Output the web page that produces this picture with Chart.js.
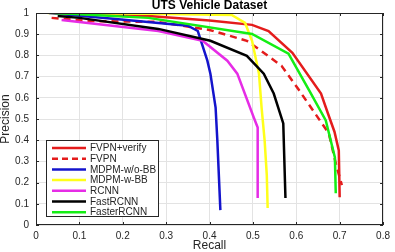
<!DOCTYPE html>
<html>
<head>
<meta charset="utf-8">
<script src="https://cdn.jsdelivr.net/npm/chart.js@4"></script>
<style>
html,body{margin:0;padding:0;background:#fff;}
#wrap{position:relative;width:395px;height:252px;}
</style>
</head>
<body>
<div id="wrap"><canvas id="c" width="395" height="252"></canvas></div>
<script>
const chartTitle = "UTS Vehicle Dataset";
const xTitle = "Recall";
const yTitle = "Precision";
const seriesNames = ["FVPN+verify","FVPN","MDPM-w/o-BB","MDPM-w-BB","RCNN","FastRCNN","FasterRCNN"];

const fvpnVerifyRecall    = [0.04, 0.26, 0.40, 0.498, 0.536, 0.591, 0.657, 0.673, 0.688, 0.698, 0.70];
const fvpnVerifyPrecision = [1.00, 0.986, 0.965, 0.944, 0.915, 0.812, 0.620, 0.526, 0.44, 0.352, 0.131];

const fvpnRecall    = [0.036, 0.123, 0.28, 0.40, 0.486, 0.509, 0.566, 0.607, 0.675, 0.691, 0.705];
const fvpnPrecision = [0.977, 0.962, 0.958, 0.92, 0.869, 0.836, 0.751, 0.634, 0.432, 0.291, 0.188];

const mdpmNoBBRecall    = [0.03, 0.19, 0.35, 0.373, 0.384, 0.395, 0.402, 0.414, 0.418, 0.425];
const mdpmNoBBPrecision = [1.00, 0.97, 0.94, 0.915, 0.845, 0.775, 0.714, 0.554, 0.399, 0.07];

const mdpmBBRecall    = [0.027, 0.26, 0.452, 0.482, 0.498, 0.514, 0.52, 0.527, 0.532, 0.534];
const mdpmBBPrecision = [1.00, 0.997, 0.99, 0.953, 0.869, 0.714, 0.554, 0.399, 0.235, 0.08];

const rcnnRecall    = [0.059, 0.282, 0.384, 0.441, 0.464, 0.502, 0.511, 0.511];
const rcnnPrecision = [0.967, 0.915, 0.869, 0.775, 0.714, 0.507, 0.46, 0.127];

const fastRecall    = [0.05, 0.10, 0.282, 0.402, 0.486, 0.525, 0.548, 0.57, 0.575];
const fastPrecision = [0.986, 0.977, 0.925, 0.869, 0.798, 0.714, 0.62, 0.479, 0.127];

const fasterRecall    = [0.043, 0.259, 0.498, 0.582, 0.63, 0.668, 0.689, 0.691];
const fasterPrecision = [1.00, 0.977, 0.901, 0.808, 0.634, 0.493, 0.319, 0.150];

const xTicks = [0, 0.1, 0.2, 0.3, 0.4, 0.5, 0.6, 0.7, 0.8];
const yTicks = [0, 0.1, 0.2, 0.3, 0.4, 0.5, 0.6, 0.7, 0.8, 0.9, 1];

function pts(xs, ys){ return xs.map((x,i)=>({x:x, y:ys[i]})); }

const styles = [
  {color:'#e41c1c', dash:[]},
  {color:'#e41c1c', dash:[7,5]},
  {color:'#1414cc', dash:[]},
  {color:'#ffff1a', dash:[]},
  {color:'#e62ce6', dash:[]},
  {color:'#000000', dash:[]},
  {color:'#14ee14', dash:[]}
];
const seriesData = [
  pts(fvpnVerifyRecall, fvpnVerifyPrecision),
  pts(fvpnRecall, fvpnPrecision),
  pts(mdpmNoBBRecall, mdpmNoBBPrecision),
  pts(mdpmBBRecall, mdpmBBPrecision),
  pts(rcnnRecall, rcnnPrecision),
  pts(fastRecall, fastPrecision),
  pts(fasterRecall, fasterPrecision)
];

const datasets = seriesNames.map((n,i)=>({
  label:n, data:seriesData[i], showLine:true, fill:false,
  borderColor:styles[i].color, backgroundColor:styles[i].color,
  borderDash:styles[i].dash, borderWidth:2.5, pointRadius:0, tension:0,
  order: 7-i
}));

const FONT = '"Liberation Sans", Arial, sans-serif';

const decor = {
  id:'decor',
  afterDatasetsDraw(chart){
    const ctx = chart.ctx, a = chart.chartArea;
    ctx.save();
    ctx.strokeStyle = '#262626'; ctx.lineWidth = 1; ctx.setLineDash([]);
    ctx.strokeRect(Math.round(a.left)+0.5, Math.round(a.top)+0.5, Math.round(a.right-a.left)-1, Math.round(a.bottom-a.top)-1);
    const xs = chart.scales.x, ys = chart.scales.y;
    ctx.beginPath();
    xTicks.forEach(v=>{ const px=Math.round(xs.getPixelForValue(v))+0.5;
      ctx.moveTo(px,a.bottom); ctx.lineTo(px,a.bottom-3);
      ctx.moveTo(px,a.top); ctx.lineTo(px,a.top+3); });
    yTicks.forEach(v=>{ const py=Math.round(ys.getPixelForValue(v))+0.5;
      ctx.moveTo(a.left,py); ctx.lineTo(a.left+3,py);
      ctx.moveTo(a.right,py); ctx.lineTo(a.right-3,py); });
    ctx.stroke();
    ctx.fillStyle = '#000';
    ctx.font = 'bold 12px ' + FONT;
    ctx.textAlign = 'center'; ctx.textBaseline = 'middle';
    ctx.fillText(chartTitle, (a.left+a.right)/2, 5.5);
    ctx.fillStyle = '#262626';
    ctx.font = '12px ' + FONT;
    ctx.fillText(xTitle, (a.left+a.right)/2, 246);
    ctx.save();
    ctx.translate(6, (a.top+a.bottom)/2);
    ctx.rotate(-Math.PI/2);
    ctx.fillText(yTitle, 0, 0);
    ctx.restore();
    const lx=46, ly=140, lw=112, lh=76;
    ctx.fillStyle='#fff'; ctx.fillRect(lx,ly,lw,lh);
    ctx.strokeStyle='#262626'; ctx.lineWidth=1;
    ctx.strokeRect(lx+0.5,ly+0.5,lw,lh);
    ctx.font = '10px ' + FONT; ctx.textAlign='left'; ctx.textBaseline='middle';
    chart.data.datasets.forEach((d,i)=>{
      const yy = 148 + i*10.7;
      ctx.strokeStyle = d.borderColor; ctx.lineWidth = 2.5;
      ctx.setLineDash(d.borderDash && d.borderDash.length ? [6,4] : []);
      ctx.beginPath(); ctx.moveTo(52,yy); ctx.lineTo(86,yy); ctx.stroke();
      ctx.setLineDash([]);
      ctx.fillStyle = '#262626';
      ctx.fillText(d.label, 90, yy+0.5);
    });
    ctx.restore();
  }
};

new Chart(document.getElementById('c'), {
  type:'scatter',
  data:{datasets},
  plugins:[decor],
  options:{
    responsive:false, animation:false,
    layout:{padding:{top:12, right:8, left:0, bottom:0}},
    plugins:{legend:{display:false}, title:{display:false}, tooltip:{enabled:false}},
    scales:{
      x:{type:'linear', min:0, max:0.8,
        afterBuildTicks(s){ s.ticks = xTicks.map(v=>({value:v})); },
        afterFit(s){ s.height = 27; },
        grid:{color:'#e3e3e3', drawTicks:false, lineWidth:1},
        border:{display:false},
        ticks:{padding:5, color:'#262626', font:{size:10, family:FONT}, maxRotation:0,
          callback:(v)=> (Math.round(v*10)/10).toString()}
      },
      y:{type:'linear', min:0, max:1,
        afterBuildTicks(s){ s.ticks = yTicks.map(v=>({value:v})); },
        afterFit(s){ s.width = 36; },
        grid:{color:'#e3e3e3', drawTicks:false, lineWidth:1},
        border:{display:false},
        ticks:{padding:7, color:'#262626', font:{size:10, family:FONT},
          callback:(v)=> (Math.round(v*10)/10).toString()}
      }
    }
  }
});
</script>
</body>
</html>
